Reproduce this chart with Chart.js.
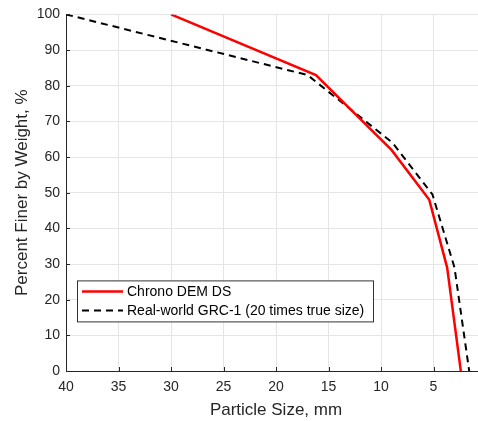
<!DOCTYPE html>
<html lang="en">
<head>
    <meta charset="UTF-8">
    <title>Particle Size Distribution</title>
    <style>
        body {
            margin: 0;
            padding: 0;
            background-color: #ffffff;
            overflow: hidden;
        }
        .chart-container {
            position: relative;
            width: 488px;
            height: 421px;
        }
    </style>
    <script src="https://cdn.jsdelivr.net/npm/chart.js"></script>
</head>
<body>
    <div class="chart-container">
        <canvas id="gradationChart"></canvas>
    </div>
    <script>
        // Particle size (mm) vs percent finer by weight
        const chronoSize = [30, 16.2, 9.0, 5.4, 3.7, 2.4];
        const chronoFiner = [100, 83, 62, 48, 29, 0];
        const grcSize = [40, 17.0, 8.9, 5.1, 3.0, 1.6];
        const grcFiner = [100, 83, 64, 49.5, 29, 0];
        const xTicks = [40, 35, 30, 25, 20, 15, 10, 5];
        const yTicks = [0, 10, 20, 30, 40, 50, 60, 70, 80, 90, 100];

        const toPoints = (xs, ys) => xs.map((x, i) => ({ x: x, y: ys[i] }));

        const FONT = "'Liberation Sans', Arial, sans-serif";
        const AXIS_COLOR = "#262626";
        const GRID_COLOR = "#e5e5e5";

        // small inward tick marks (matlab style) + legend box inside the axes
        const matlabExtras = {
            id: "matlabExtras",
            afterDraw(chart) {
                const ctx = chart.ctx;
                const area = chart.chartArea;
                const xs = chart.scales.x, ys = chart.scales.y;
                ctx.save();
                ctx.strokeStyle = AXIS_COLOR;
                ctx.lineWidth = 1;
                ctx.beginPath();
                xTicks.forEach(v => {
                    const px = Math.round(xs.getPixelForValue(v)) + 0.5;
                    ctx.moveTo(px, area.bottom);
                    ctx.lineTo(px, area.bottom - 4);
                });
                yTicks.forEach(v => {
                    const py = Math.round(ys.getPixelForValue(v)) + 0.5;
                    ctx.moveTo(area.left, py);
                    ctx.lineTo(area.left + 4, py);
                });
                ctx.stroke();

                const left = area.left + 11;
                const top = area.top + 266;
                const w = 296, h = 41;
                ctx.fillStyle = "#ffffff";
                ctx.fillRect(left, top, w, h);
                ctx.strokeStyle = "#333333";
                ctx.strokeRect(left + 0.5, top + 0.5, w, h);
                ctx.font = "14px " + FONT;
                ctx.textBaseline = "middle";
                chart.data.datasets.forEach((ds, i) => {
                    const y = top + 11 + i * 19;
                    ctx.beginPath();
                    ctx.strokeStyle = ds.borderColor;
                    ctx.lineWidth = ds.borderWidth;
                    ctx.setLineDash(ds.borderDash || []);
                    ctx.moveTo(left + 5, y);
                    ctx.lineTo(left + 46, y);
                    ctx.stroke();
                    ctx.setLineDash([]);
                    ctx.fillStyle = "#000000";
                    ctx.fillText(ds.label, left + 50, y + 1);
                });
                ctx.restore();
            }
        };

        const ctx = document.getElementById("gradationChart").getContext("2d");
        const gradationChart = new Chart(ctx, {
            type: "line",
            data: {
                datasets: [
                    {
                        label: "Chrono DEM DS",
                        data: toPoints(chronoSize, chronoFiner),
                        borderColor: "#ff0000",
                        borderWidth: 2.5,
                        pointRadius: 0,
                        tension: 0,
                    },
                    {
                        label: "Real-world GRC-1 (20 times true size)",
                        data: toPoints(grcSize, grcFiner),
                        borderColor: "#000000",
                        borderWidth: 2,
                        borderDash: [7, 5],
                        pointRadius: 0,
                        tension: 0,
                    },
                ],
            },
            options: {
                responsive: true,
                maintainAspectRatio: false,
                animation: false,
                layout: {
                    padding: { top: 11, right: 2, left: 0, bottom: 0 },
                },
                plugins: {
                    legend: { display: false },
                    tooltip: { enabled: false },
                },
                scales: {
                    x: {
                        type: "linear",
                        reverse: true,
                        min: 0,
                        max: 40,
                        afterBuildTicks: (scale) => {
                            scale.ticks = xTicks.map(v => ({ value: v }));
                        },
                        afterFit: (scale) => { scale.height = 50; },
                        grid: { color: GRID_COLOR, drawTicks: false },
                        border: { color: AXIS_COLOR, width: 1 },
                        ticks: {
                            color: AXIS_COLOR,
                            font: { family: FONT, size: 14 },
                            padding: 8,
                            maxRotation: 0,
                        },
                        title: {
                            display: true,
                            text: "Particle Size, mm",
                            color: AXIS_COLOR,
                            font: { family: FONT, size: 17 },
                            padding: { top: 3, bottom: 0 },
                        },
                    },
                    y: {
                        min: 0,
                        max: 100,
                        afterBuildTicks: (scale) => {
                            scale.ticks = yTicks.map(v => ({ value: v }));
                        },
                        afterFit: (scale) => { scale.width = 66; },
                        grid: { color: GRID_COLOR, drawTicks: false },
                        border: { color: AXIS_COLOR, width: 1 },
                        ticks: {
                            color: AXIS_COLOR,
                            font: { family: FONT, size: 14 },
                            padding: 6,
                        },
                        title: {
                            display: true,
                            text: "Percent Finer by Weight, %",
                            color: AXIS_COLOR,
                            font: { family: FONT, size: 17 },
                            padding: { top: 12, bottom: 0 },
                        },
                    },
                },
            },
            plugins: [matlabExtras],
        });
    </script>
</body>
</html>
